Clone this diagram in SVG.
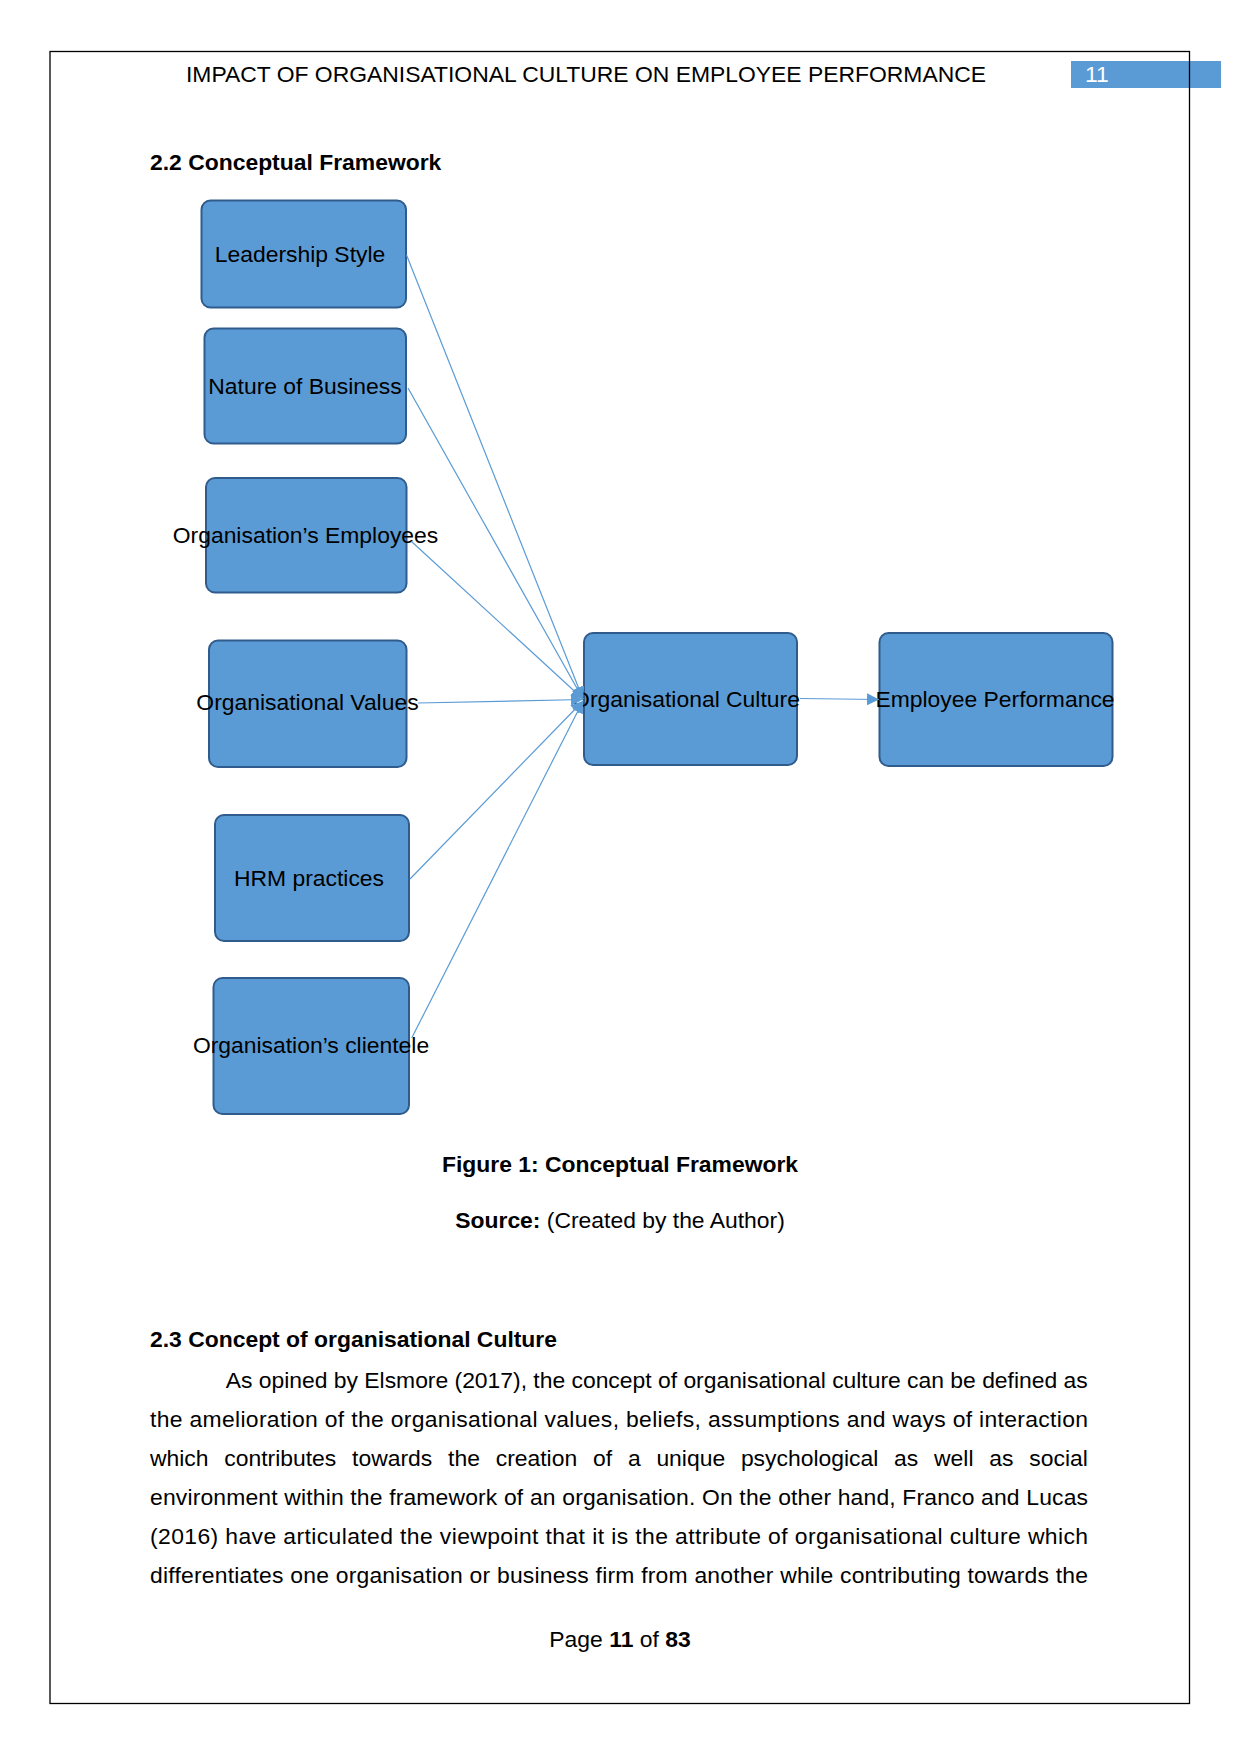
<svg xmlns="http://www.w3.org/2000/svg" width="1241" height="1754" viewBox="0 0 1241 1754">
<style>
  text { font-family: "Liberation Sans", Arial, sans-serif; font-size: 22.9px; fill: #000; }
  .b { font-weight: bold; }
  .node rect { fill: #5b9bd5; stroke: #2f5c8c; stroke-width: 2; }
  .node text { text-anchor: middle; }
  .conn line { stroke: #5b9bd5; stroke-width: 1.2; fill: none; }
  .c { text-anchor: middle; }
</style>
<defs>
  <marker id="arr" markerUnits="userSpaceOnUse" markerWidth="12" markerHeight="12" refX="12" refY="6" orient="auto">
    <path d="M0,0 L12,6 L0,12 Z" fill="#5b9bd5"/>
  </marker>
</defs>
<rect x="0" y="0" width="1241" height="1754" fill="#ffffff"/>

<!-- header -->
<rect x="1071" y="61" width="150" height="27" fill="#5b9bd5"/>
<rect x="50" y="51.5" width="1139.5" height="1652" fill="none" stroke="#000" stroke-width="1.3"/>
<text x="586" y="82" class="c">IMPACT OF ORGANISATIONAL CULTURE ON EMPLOYEE PERFORMANCE</text>
<text x="1085" y="82" style="fill:#ffffff">11</text>

<text x="150" y="170" class="b">2.2 Conceptual Framework</text>

<!-- nodes -->
<g id="leadership" class="node">
  <rect x="201.5" y="200.5" width="204.5" height="107" rx="9"/>
  <text x="300" y="262">Leadership Style</text>
</g>
<g id="nature" class="node">
  <rect x="204.5" y="328.5" width="201.5" height="115" rx="9"/>
  <text x="305" y="394">Nature of Business</text>
</g>
<g id="employees" class="node">
  <rect x="206" y="478" width="200.5" height="114.5" rx="9"/>
  <text x="305.5" y="543">Organisation’s Employees</text>
</g>
<g id="values" class="node">
  <rect x="209" y="640.5" width="197.5" height="126.5" rx="9"/>
  <text x="307.5" y="710">Organisational Values</text>
</g>
<g id="hrm" class="node">
  <rect x="215" y="815" width="194" height="126" rx="9"/>
  <text x="309" y="886">HRM practices</text>
</g>
<g id="clientele" class="node">
  <rect x="213.5" y="978" width="195.5" height="136" rx="9"/>
  <text x="311" y="1053">Organisation’s clientele</text>
</g>
<g id="culture" class="node">
  <rect x="584" y="633" width="213" height="132" rx="9"/>
  <text x="686" y="707">Organisational Culture</text>
</g>
<g id="performance" class="node">
  <rect x="879.5" y="633" width="233" height="133" rx="9"/>
  <text x="995" y="707">Employee Performance</text>
</g>

<!-- connectors -->
<g id="connectors" class="conn">
  <line x1="406.5" y1="255" x2="583" y2="699" marker-end="url(#arr)"/>
  <line x1="408" y1="388" x2="583" y2="699" marker-end="url(#arr)"/>
  <line x1="411.5" y1="541.5" x2="583" y2="699" marker-end="url(#arr)"/>
  <line x1="418" y1="703" x2="583" y2="699.5" marker-end="url(#arr)"/>
  <line x1="410" y1="879" x2="583" y2="701" marker-end="url(#arr)"/>
  <line x1="411.7" y1="1038" x2="583" y2="701" marker-end="url(#arr)"/>
  <line x1="800" y1="698.5" x2="879" y2="699.5" marker-end="url(#arr)"/>
</g>

<!-- captions -->
<text x="620" y="1172" class="b c">Figure 1: Conceptual Framework</text>
<text x="620" y="1227.5" class="c"><tspan class="b">Source:</tspan> (Created by the Author)</text>

<text x="150" y="1347" class="b">2.3 Concept of organisational Culture</text>

<text x="225.7" y="1387.5" textLength="862" lengthAdjust="spacing">As opined by Elsmore (2017), the concept of organisational culture can be defined as</text>
<text x="150" y="1426.7" textLength="938" lengthAdjust="spacing">the amelioration of the organisational values, beliefs, assumptions and ways of interaction</text>
<text y="1466"><tspan x="150">which</tspan><tspan x="224.3">contributes</tspan><tspan x="352.1">towards</tspan><tspan x="448.1">the</tspan><tspan x="495.7">creation</tspan><tspan x="593">of</tspan><tspan x="627.9">a</tspan><tspan x="656.4">unique</tspan><tspan x="740.9">psychological</tspan><tspan x="894.1">as</tspan><tspan x="934.1">well</tspan><tspan x="989.3">as</tspan><tspan x="1029.3">social</tspan></text>
<text x="150" y="1505" textLength="938" lengthAdjust="spacing">environment within the framework of an organisation. On the other hand, Franco and Lucas</text>
<text x="150" y="1544.3" textLength="938" lengthAdjust="spacing">(2016) have articulated the viewpoint that it is the attribute of organisational culture which</text>
<text x="150" y="1583.3" textLength="938" lengthAdjust="spacing">differentiates one organisation or business firm from another while contributing towards the</text>

<text x="620" y="1647" class="c">Page <tspan class="b">11</tspan> of <tspan class="b">83</tspan></text>
</svg>
